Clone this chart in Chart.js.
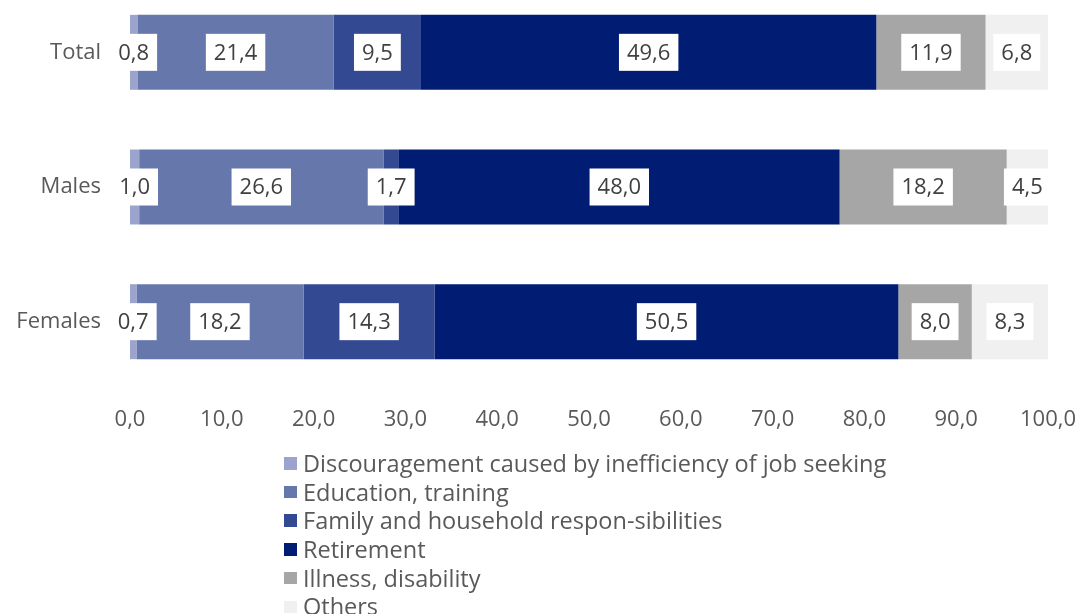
<!DOCTYPE html>
<html>
<head>
<meta charset="utf-8">
<script src="https://cdn.jsdelivr.net/npm/chart.js@4/dist/chart.umd.min.js"></script>
<style>
  html, body { margin: 0; padding: 0; background: #ffffff; width: 1078px; height: 614px; overflow: hidden; position: relative; }
  #wrap { position: absolute; left: 0; top: -15px; width: 1078px; height: 464px; }
  #legend { position: absolute; left: 284px; top: 449px; font-family: "Open Sans", sans-serif; font-size: 23.5px; color: #595959; }
  .li { height: 28.7px; line-height: 28.7px; white-space: nowrap; display: flex; align-items: center; }
  .sw { width: 12.5px; height: 12.5px; margin-right: 6.5px; flex: none; }
</style>
</head>
<body>
<div id="wrap"><canvas id="c"></canvas></div>
<div id="legend"></div>
<script>
const categories = ["Total", "Males", "Females"];
const seriesNames = [
  "Discouragement caused by inefficiency of job seeking",
  "Education, training",
  "Family and household respon-sibilities",
  "Retirement",
  "Illness, disability",
  "Others"
];
const discouragement = [0.8, 1.0, 0.7];
const education = [21.4, 26.6, 18.2];
const family = [9.5, 1.7, 14.3];
const retirement = [49.6, 48.0, 50.5];
const illness = [11.9, 18.2, 8.0];
const others = [6.8, 4.5, 8.3];
const xTicks = [0, 10, 20, 30, 40, 50, 60, 70, 80, 90, 100];
const seriesColors = ["#9aa4cc", "#6677ab", "#334a93", "#001d73", "#a6a6a6", "#f0f0f0"];

const seriesValues = [discouragement, education, family, retirement, illness, others];
const FONT = '"Open Sans", sans-serif';
const fmt = v => Number(v).toFixed(1).replace('.', ',');

const labelPlugin = {
  id: 'boxLabels',
  afterDatasetsDraw(chart) {
    const ctx = chart.ctx;
    const area = chart.chartArea;
    ctx.save();
    ctx.beginPath();
    ctx.rect(0, 0, area.right, chart.height);
    ctx.clip();
    ctx.font = '22px ' + FONT;
    ctx.textAlign = 'center';
    ctx.textBaseline = 'middle';
    chart.data.datasets.forEach((ds, di) => {
      const meta = chart.getDatasetMeta(di);
      meta.data.forEach((el, i) => {
        const v = ds.data[i];
        const txt = fmt(v);
        const cx = (el.x + el.base) / 2;
        const cy = el.y;
        const w = ctx.measureText(txt).width + 16;
        const h = 37;
        ctx.fillStyle = '#ffffff';
        ctx.fillRect(cx - w / 2, cy - h / 2, w, h);
        ctx.fillStyle = '#404040';
        ctx.fillText(txt, cx, cy + 1);
      });
    });
    ctx.restore();
  }
};

const datasets = seriesNames.map((name, k) => ({
  label: name,
  data: seriesValues[k],
  backgroundColor: seriesColors[k],
  borderWidth: 0,
  barPercentage: 0.5566,
  categoryPercentage: 1.0
}));

new Chart(document.getElementById('c'), {
  type: 'bar',
  data: { labels: categories, datasets: datasets },
  options: {
    indexAxis: 'y',
    responsive: true,
    maintainAspectRatio: false,
    animation: false,
    layout: { padding: { left: 0, right: 30, top: 0, bottom: 0 } },
    plugins: { legend: { display: false }, tooltip: { enabled: false } },
    scales: {
      x: {
        stacked: true,
        min: 0,
        max: 100,
        afterBuildTicks: s => { s.ticks = xTicks.map(v => ({ value: v })); },
        afterFit: s => { s.height = 60; s.paddingLeft = 0; s.paddingRight = 0; },
        grid: { display: false, drawTicks: false },
        border: { display: false },
        ticks: {
          padding: 18,
          color: '#595959',
          font: { family: FONT, size: 22 },
          callback: v => fmt(v),
          maxRotation: 0,
          autoSkip: false
        }
      },
      y: {
        stacked: true,
        afterFit: s => { s.width = 130; s.paddingTop = 0; s.paddingBottom = 0; },
        grid: { display: false, drawTicks: false },
        border: { display: false },
        ticks: {
          padding: 29,
          color: '#595959',
          font: { family: FONT, size: 22 }
        }
      }
    }
  },
  plugins: [labelPlugin]
});

const legend = document.getElementById('legend');
seriesNames.forEach((name, k) => {
  const row = document.createElement('div');
  row.className = 'li';
  const sw = document.createElement('span');
  sw.className = 'sw';
  sw.style.background = seriesColors[k];
  const t = document.createElement('span');
  t.textContent = name;
  row.appendChild(sw);
  row.appendChild(t);
  legend.appendChild(row);
});
</script>
</body>
</html>
